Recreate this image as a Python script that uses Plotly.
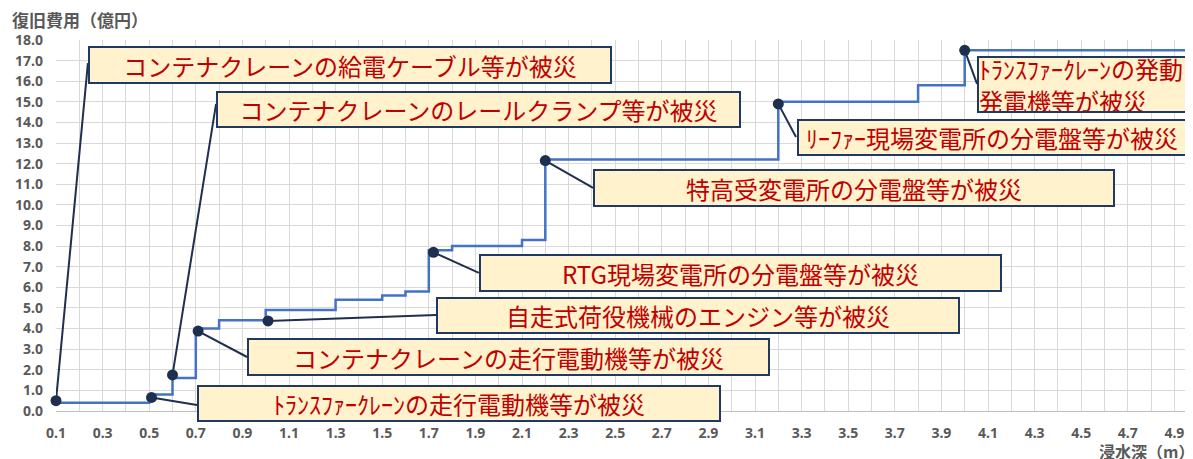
import plotly.graph_objects as go

# 浸水深ごとの復旧費用（階段状）
step_depth = [0.1, 0.5, 0.6, 0.7, 0.8, 1.0, 1.3, 1.5, 1.6, 1.7, 1.8, 2.1, 2.2, 3.2, 3.8, 4.0, 5.0]
step_cost = [0.4, 0.8, 1.6, 4.0, 4.4, 4.9, 5.4, 5.6, 5.8, 7.8, 8.0, 8.3, 12.2, 15.0, 15.8, 17.5, 17.5]

# 被災ポイント
point_depth = [0.1, 0.51, 0.6, 0.71, 1.01, 1.72, 2.2, 3.2, 4.0]
point_cost = [0.5, 0.66, 1.75, 3.88, 4.37, 7.7, 12.15, 14.9, 17.5]

labels = [
    "コンテナクレーンの給電ケーブル等が被災",
    "ﾄﾗﾝｽﾌｧｰｸﾚｰﾝの走行電動機等が被災",
    "コンテナクレーンのレールクランプ等が被災",
    "コンテナクレーンの走行電動機等が被災",
    "自走式荷役機械のエンジン等が被災",
    "RTG現場変電所の分電盤等が被災",
    "特高受変電所の分電盤等が被災",
    "ﾘｰﾌｧｰ現場変電所の分電盤等が被災",
    "ﾄﾗﾝｽﾌｧｰｸﾚｰﾝの発動<br>発電機等が被災",
]

# 吹き出しの位置（左上, データ座標）と大きさ(px)、引出線の終点
box_x = [0.237, 0.705, 0.787, 0.920, 1.731, 1.915, 2.405, 3.280, 4.053]
box_y = [17.71, 1.26, 15.53, 3.54, 5.53, 7.62, 11.74, 14.17, 17.22]
box_w = [520, 520, 521, 519, 520, 519, 518, 386, 230]
box_h = [34, 33, 33, 34, 33, 34, 34, 33, 53]
box_align = ["center"] * 8 + ["left"]
lead_x = [0.237, 0.705, 0.787, 0.920, 1.731, 1.915, 2.405, 3.276, 4.053]
lead_y = [16.88, 0.29, 14.90, 2.62, 4.66, 6.70, 10.82, 13.29, 15.87]

x_ticks = [round(0.1 + 0.2 * i, 1) for i in range(25)]
y_ticks = list(range(0, 19))

NAVY = "#1F2F50"
JP = "Noto Sans CJK JP"

# ページ本体の余白(8px)分を差し引いた図のサイズ
W, H = 1185, 451
L, R, T, B = 48, 0, 32, 48
pw, ph = W - L - R, H - T - B

fig = go.Figure()

# 引出線
lx, ly = [], []
for px, py, ex, ey in zip(point_depth, point_cost, lead_x, lead_y):
    lx += [px, ex, None]
    ly += [py, ey, None]
fig.add_trace(go.Scatter(x=lx, y=ly, mode="lines",
                         line=dict(color=NAVY, width=2), hoverinfo="skip"))

fig.add_trace(go.Scatter(x=step_depth, y=step_cost, mode="lines",
                         line=dict(color="#4472C4", width=2.5, shape="hv")))

fig.add_trace(go.Scatter(x=point_depth, y=point_cost, mode="markers",
                         marker=dict(color=NAVY, size=11), cliponaxis=False))

for i, t in enumerate(labels):
    fig.add_annotation(
        x=box_x[i], y=box_y[i], xref="x", yref="y",
        xanchor="left", yanchor="top", showarrow=False,
        text=t, align=box_align[i], valign="middle",
        width=box_w[i], height=box_h[i],
        bgcolor="#FFF2CC", bordercolor="#203864", borderwidth=2, borderpad=0,
        font=dict(family=JP, size=24, color="#C00000"),
    )

# 軸タイトル（ピクセル位置 → paper 座標）
fig.add_annotation(x=(2 - L) / pw, y=(H - 11 - B) / ph, xref="paper", yref="paper",
                   text="復旧費用（億円）", showarrow=False, xanchor="left", yanchor="middle",
                   font=dict(family=JP, size=17, color="#595959", weight="bold"))
fig.add_annotation(x=(1089 - L) / pw, y=(H - 443 - B) / ph, xref="paper", yref="paper",
                   text="浸水深（m）", showarrow=False, xanchor="left", yanchor="middle",
                   font=dict(family=JP, size=16, color="#595959", weight="bold"))

fig.update_layout(
    width=W, height=H,
    margin=dict(l=L, r=R, t=T, b=B),
    plot_bgcolor="white", paper_bgcolor="white",
    showlegend=False,
    font=dict(family="Noto Sans", color="#595959"),
    xaxis=dict(
        range=[0.1, 0.1 + pw / 233], tickvals=x_ticks,
        ticktext=[f"{v:.1f}" for v in x_ticks],
        showgrid=True, gridcolor="#D9D9D9", gridwidth=1,
        minor=dict(dtick=0.1, tick0=0.1, showgrid=True, gridcolor="#D9D9D9", gridwidth=1),
        zeroline=False, showline=False, ticks="", ticklabelstandoff=12,
        tickfont=dict(family="Noto Sans", size=14, color="#595959", weight="bold"),
    ),
    yaxis=dict(
        range=[0, 18], tickvals=y_ticks,
        ticktext=[f"{v:.1f}" for v in y_ticks],
        showgrid=True, gridcolor="#D9D9D9", gridwidth=1,
        zeroline=True, zerolinecolor="#BFBFBF", zerolinewidth=1,
        showline=False, ticks="", ticklabelstandoff=12,
        tickfont=dict(family="Noto Sans", size=14, color="#595959", weight="bold"),
    ),
)

fig.write_html("out.html")
